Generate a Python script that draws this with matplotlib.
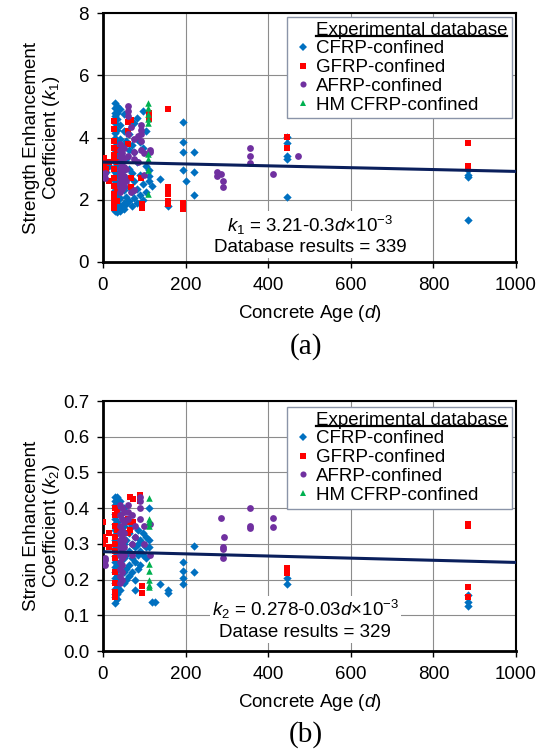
import matplotlib
matplotlib.use("Agg")
import matplotlib.pyplot as plt
from matplotlib.lines import Line2D

plt.rcParams['font.family'] = ['Liberation Sans', 'DejaVu Sans']
plt.rcParams['mathtext.fontset'] = 'custom'
plt.rcParams['mathtext.rm'] = 'Liberation Sans'
plt.rcParams['mathtext.it'] = 'Liberation Sans:italic'

# ---------------- Data: panel (a) strength enhancement k1 ----------------
cfrp_a_age = [28]*27 + [35]*13 + [42]*9 + [50]*7 + [56]*5 + [63]*5 + [70]*4 + [75]*4 + [82]*5 + [90]*3 + [98]*4 + [105]*3 + [112]*3 + [118, 138, 158] + [193]*4 + [200] + [221]*3 + [445]*5 + [883]*4 + [7, 14]
cfrp_a_k = [5.1, 4.95, 4.8, 4.7, 4.55, 4.45, 4.3, 4.15, 4.0, 3.85, 3.7, 3.6, 3.45, 3.3, 3.2, 3.05, 2.9, 2.75, 2.6, 2.45, 2.3, 2.15, 2.0, 1.9, 1.8, 1.7, 1.65,
            5.0, 4.8, 4.6, 4.25, 3.9, 3.5, 3.1, 2.8, 2.5, 2.2, 1.95, 1.75, 1.6,
            4.9, 4.4, 3.95, 3.4, 2.9, 2.35, 2.05, 1.8, 1.65,
            4.75, 4.2, 3.75, 2.95, 2.3, 1.9, 1.7,
            3.9, 3.3, 2.7, 2.1, 1.85,
            4.1, 3.6, 3.0, 2.4, 1.95,
            3.75, 2.85, 2.25, 1.8,
            4.45, 3.55, 2.6, 2.05,
            4.64, 3.95, 3.2, 2.35, 1.9,
            3.85, 2.8, 2.15,
            4.86, 3.65, 2.5, 2.0,
            4.2, 3.1, 2.25,
            2.95, 2.75, 2.6,
            2.45, 2.66, 1.79,
            4.49, 3.85, 3.53, 2.95,
            2.6,
            3.53, 2.88, 2.15,
            4.03, 3.82, 3.42, 3.32, 2.08,
            2.95, 2.8, 2.72, 1.36,
            2.9, 3.1]

gfrp_a_age = [3]*3 + [7] + [14]*2 + [27]*13 + [33]*4 + [61]*3 + [68]*3 + [92] + [95]*2 + [112]*2 + [158]*6 + [193]*3 + [445]*2 + [883]*3
gfrp_a_k = [3.34, 3.1, 2.85, 3.0, 3.2, 2.6,
            4.52, 4.26, 3.9, 3.65, 3.45, 3.3, 3.0, 2.7, 2.45, 2.2, 2.0, 1.85, 1.75,
            3.6, 3.2, 2.35, 1.95,
            4.5, 4.2, 3.8,
            4.55, 2.7, 2.4,
            2.7, 1.85, 1.75,
            4.8, 4.6,
            4.91, 2.4, 2.3, 2.2, 1.95, 1.85,
            1.9, 1.8, 1.7,
            4.01, 3.66,
            3.82, 3.1, 3.05]

afrp_a_age = [5]*2 + [40]*10 + [45]*9 + [50]*5 + [55]*2 + [60]*5 + [68]*2 + [75]*4 + [85]*2 + [93]*5 + [100]*2 + [115]*2 + [277]*2 + [285] + [291]*2 + [356]*3 + [411] + [471]
afrp_a_k = [2.85, 2.7,
            3.8, 3.6, 3.4, 3.2, 3.0, 2.85, 2.7, 2.55, 2.4, 2.25,
            3.7, 3.5, 3.3, 3.1, 2.95, 2.8, 2.65, 2.5, 2.35,
            3.65, 3.35, 3.05, 2.75, 2.45,
            3.0, 2.6,
            5.0, 4.85, 4.7, 4.1, 3.4,
            4.35, 2.25,
            3.95, 3.55, 3.3, 2.3,
            4.05, 3.2,
            4.4, 4.25, 4.1, 3.9, 3.6,
            3.5, 2.8,
            3.6, 3.55,
            2.9, 2.75, 2.82, 2.6, 2.4,
            3.67, 3.42, 3.19, 2.82, 3.39]

hm_a_age = [110]*9
hm_a_k = [5.1, 4.95, 4.75, 4.6, 4.45, 3.46, 3.3, 2.95, 2.2]

# ---------------- Data: panel (b) strain enhancement k2 ----------------
cfrp_b_age = [28]*22 + [35]*12 + [42]*7 + [50]*6 + [56]*5 + [63]*5 + [70]*4 + [77]*5 + [84]*4 + [90]*3 + [98]*3 + [105]*3 + [111]*3 + [118, 126, 138] + [158]*2 + [193]*4 + [221]*2 + [445]*2 + [883]*3
cfrp_b_k = [0.43, 0.42, 0.41, 0.40, 0.385, 0.37, 0.355, 0.34, 0.325, 0.31, 0.295, 0.28, 0.265, 0.25, 0.235, 0.22, 0.205, 0.19, 0.175, 0.16, 0.15, 0.134,
            0.43, 0.415, 0.39, 0.36, 0.33, 0.30, 0.27, 0.24, 0.21, 0.18, 0.16, 0.145,
            0.42, 0.38, 0.34, 0.29, 0.25, 0.20, 0.17,
            0.40, 0.35, 0.30, 0.26, 0.22, 0.19,
            0.37, 0.31, 0.27, 0.23, 0.20,
            0.36, 0.33, 0.28, 0.24, 0.21,
            0.35, 0.30, 0.26, 0.22,
            0.32, 0.29, 0.25, 0.20, 0.17,
            0.34, 0.30, 0.27, 0.23,
            0.31, 0.28, 0.24,
            0.33, 0.30, 0.27,
            0.32, 0.29, 0.26,
            0.40, 0.31, 0.29,
            0.138, 0.138, 0.187,
            0.163, 0.17,
            0.25, 0.224, 0.205, 0.187,
            0.295, 0.221,
            0.204, 0.188,
            0.157, 0.138, 0.126]

gfrp_b_age = [0]*3 + [5]*2 + [14]*2 + [28]*12 + [33]*2 + [60]*2 + [65]*3 + [73]*2 + [90]*2 + [94, 95] + [445]*3 + [883]*4
gfrp_b_k = [0.36, 0.32, 0.30, 0.31, 0.25, 0.33, 0.29,
            0.40, 0.38, 0.35, 0.32, 0.30, 0.28, 0.26, 0.22, 0.19, 0.165, 0.16, 0.15,
            0.39, 0.34,
            0.37, 0.33,
            0.43, 0.36, 0.34,
            0.425, 0.36,
            0.437, 0.42,
            0.183, 0.163,
            0.232, 0.225, 0.218,
            0.355, 0.35, 0.178, 0.15]

afrp_b_age = [5]*3 + [40]*11 + [45]*10 + [50]*6 + [60]*3 + [70]*3 + [78]*2 + [90]*4 + [100]*2 + [115]*2 + [285] + [291]*3 + [293] + [357]*3 + [412]*2
afrp_b_k = [0.255, 0.24, 0.26,
            0.41, 0.38, 0.35, 0.33, 0.31, 0.29, 0.27, 0.25, 0.23, 0.21, 0.19,
            0.40, 0.37, 0.34, 0.32, 0.30, 0.28, 0.26, 0.24, 0.22, 0.20,
            0.39, 0.36, 0.33, 0.31, 0.29, 0.27,
            0.41, 0.39, 0.37,
            0.38, 0.30, 0.27,
            0.35, 0.32,
            0.43, 0.42, 0.40, 0.37,
            0.35, 0.30,
            0.356, 0.27,
            0.373, 0.29, 0.285, 0.26, 0.318,
            0.40, 0.35, 0.344,
            0.373, 0.347]

hm_b_age = [111]*9
hm_b_k = [0.428, 0.37, 0.36, 0.35, 0.245, 0.225, 0.20, 0.185, 0.18]

# regression fits (intercept, slope per day)
fit_a = (3.21, -0.3e-3)
fit_b = (0.278, -0.03e-3)
fit_age = [0, 1000]

legend_title = 'Experimental database'
series_labels = ['CFRP-confined', 'GFRP-confined', 'AFRP-confined', 'HM CFRP-confined']
colors = ['#0070C0', '#FF0000', '#7030A0', '#00B050']
markers = ['D', 's', 'o', '^']
sizes = [18, 17, 24, 22]
leg_msizes = [3.6, 3.8, 4.4, 4.4]

FS = 13.5
fig = plt.figure(figsize=(5.38, 7.53), dpi=100)
W, H = 538, 753
ax_a = fig.add_axes([103/W, 1-262/H, 413/W, 249/H])
ax_b = fig.add_axes([103/W, 1-651/H, 413/W, 250/H])

def style_axes(ax, ylim, yticks, ylabel):
    ax.set_xlim(0, 1000)
    ax.set_ylim(*ylim)
    ax.set_xticks([0, 200, 400, 600, 800, 1000])
    ax.set_yticks(yticks)
    ax.grid(True, color='#8c8c8c', linewidth=0.8)
    ax.set_axisbelow(True)
    for s in ['left', 'bottom']:
        ax.spines[s].set_linewidth(2.0)
    for s in ['top', 'right']:
        ax.spines[s].set_linewidth(1.5)
    ax.tick_params(direction='out', length=4, width=1, labelsize=FS)
    ax.tick_params(axis='x', pad=7)
    ax.tick_params(axis='y', pad=6)
    ax.set_xlabel('Concrete Age ($\\mathit{d}$)', fontsize=FS, labelpad=6)
    ax.set_ylabel(ylabel, fontsize=FS, linespacing=1.05)
    ax.yaxis.set_label_coords(-0.1, 0.5)

def draw_panel(ax, data, fit, anchor):
    for (xs, ys), c, m, s, lab in zip(data, colors, markers, sizes, series_labels):
        ax.scatter(xs, ys, s=s, c=c, marker=m, linewidths=0, label=lab, zorder=3)
    ax.plot(fit_age, [fit[0] + fit[1]*x for x in fit_age], color='#0a1f5c', linewidth=2.2, zorder=4)
    handles = [Line2D([], [], linestyle='none', marker='None')]
    for c, m, ms in zip(colors, markers, leg_msizes):
        handles.append(Line2D([], [], linestyle='none', marker=m, color=c, markersize=ms, markeredgewidth=0))
    leg = ax.legend(handles, [legend_title] + series_labels, loc='upper right',
                    bbox_to_anchor=anchor, fontsize=FS,
                    frameon=True, fancybox=False, edgecolor='#8a94a8', framealpha=1,
                    handlelength=1.3, handletextpad=0.0, labelspacing=0.09,
                    borderpad=0.25, borderaxespad=0, numpoints=1)
    leg.get_frame().set_linewidth(1.0)
    leg.set_zorder(6)
    return leg

leg_a = draw_panel(ax_a, [(cfrp_a_age, cfrp_a_k), (gfrp_a_age, gfrp_a_k), (afrp_a_age, afrp_a_k), (hm_a_age, hm_a_k)], fit_a, (0.99, 0.985))
style_axes(ax_a, (0, 8), [0, 2, 4, 6, 8], 'Strength Enhancement\nCoefficient ($\\mathit{k}_1$)')

leg_b = draw_panel(ax_b, [(cfrp_b_age, cfrp_b_k), (gfrp_b_age, gfrp_b_k), (afrp_b_age, afrp_b_k), (hm_b_age, hm_b_k)], fit_b, (0.99, 0.977))
style_axes(ax_b, (0, 0.7), [0, 0.1, 0.2, 0.3, 0.4, 0.5, 0.6, 0.7], 'Strain Enhancement\nCoefficient ($\\mathit{k}_2$)')

bbox_white = dict(facecolor='white', edgecolor='none', pad=1.5)
ax_a.text(501, 1.19, '$\\mathit{k}_1$ = 3.21-0.3$\\mathit{d}$×10$^{-3}$', ha='center', va='center',
          fontsize=FS, bbox=bbox_white, zorder=5)
ax_a.text(501, 0.48, 'Database results = 339', ha='center', va='center',
          fontsize=FS, bbox=bbox_white, zorder=5)
ax_b.text(490, 0.115, '$\\mathit{k}_2$ = 0.278-0.03$\\mathit{d}$×10$^{-3}$', ha='center', va='center',
          fontsize=FS, bbox=bbox_white, zorder=5)
ax_b.text(490, 0.053, 'Datase results = 329', ha='center', va='center',
          fontsize=FS, bbox=bbox_white, zorder=5)

fig.text(306/W, 1-347/H, '(a)', ha='center', va='center', fontsize=21, family='Liberation Serif')
fig.text(306/W, 1-735/H, '(b)', ha='center', va='center', fontsize=21, family='Liberation Serif')

# underline the legend titles
fig.canvas.draw()
renderer = fig.canvas.get_renderer()
inv = fig.transFigure.inverted()
for leg in (leg_a, leg_b):
    bb = leg.get_texts()[0].get_window_extent(renderer)
    (x0, y0), (x1, _) = inv.transform([(bb.x0, bb.y0 + 3), (bb.x1, bb.y0)])
    fig.add_artist(Line2D([x0, x1], [y0, y0], transform=fig.transFigure, color='black', linewidth=1.6, zorder=10))

fig.savefig('out.png', dpi=100)
